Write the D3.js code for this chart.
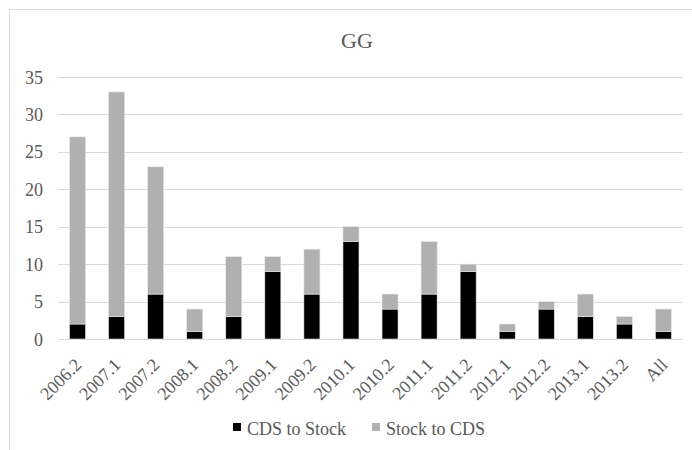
<!DOCTYPE html>
<html>
<head>
<meta charset="utf-8">
<script src="https://cdn.jsdelivr.net/npm/d3@7"></script>
<style>
  body { margin: 0; background: #fff; }
</style>
</head>
<body>
<svg id="chart" width="692" height="450"></svg>
<script>
// Periods on the x axis
const periods = ["2006.2","2007.1","2007.2","2008.1","2008.2","2009.1","2009.2","2010.1",
                 "2010.2","2011.1","2011.2","2012.1","2012.2","2013.1","2013.2","All"];
// Counts per direction
const cdsToStock = [2, 3, 6, 1, 3, 9, 6, 13, 4, 6, 9, 1, 4, 3, 2, 1];
const stockToCds = [25, 30, 17, 3, 8, 2, 6, 2, 2, 7, 1, 1, 1, 3, 1, 3];
const seriesNames = ["CDS to Stock", "Stock to CDS"];
const yTicks = [0, 5, 10, 15, 20, 25, 30, 35];

const svg = d3.select("#chart");
const W = 692, H = 450;
const m = { left: 58, right: 9, top: 77, bottom: 111 };
const textColor = "#595959";
const serif = '"Liberation Serif"';

// chart frame
svg.append("rect").attr("x", 9.5).attr("y", 9.5).attr("width", W + 20).attr("height", H + 20)
  .attr("fill", "#fff").attr("stroke", "#d9d9d9").attr("stroke-width", 1);

const rows = periods.map((p, i) => ({ period: p, "CDS to Stock": cdsToStock[i], "Stock to CDS": stockToCds[i] }));
const stacked = d3.stack().keys(seriesNames)(rows);

const x = d3.scaleBand().domain(periods).range([m.left, W - m.right]).paddingInner(0.59).paddingOuter(0.295);
const y = d3.scaleLinear().domain([0, 35]).range([H - m.bottom, m.top]);
const colors = { "CDS to Stock": "#000000", "Stock to CDS": "#b0b0b0" };

// gridlines
svg.append("g").selectAll("line").data(yTicks).join("line")
  .attr("x1", m.left).attr("x2", W - m.right)
  .attr("y1", d => Math.round(y(d)) + 0.5).attr("y2", d => Math.round(y(d)) + 0.5)
  .attr("stroke", "#d9d9d9").attr("stroke-width", 1);

// y axis labels
const yAxis = svg.append("g").attr("transform", `translate(${m.left},0)`)
  .call(d3.axisLeft(y).tickValues(yTicks).tickSize(0).tickPadding(15));
yAxis.select(".domain").remove();
yAxis.selectAll("text").style("font-family", serif).style("font-size", "18px")
  .attr("fill", textColor).attr("dy", "0.34em");

// stacked bars
svg.append("g").selectAll("g").data(stacked).join("g")
  .attr("fill", d => colors[d.key])
  .selectAll("rect").data(d => d).join("rect")
  .attr("x", d => x(d.data.period))
  .attr("width", x.bandwidth())
  .attr("y", d => y(d[1]))
  .attr("height", d => y(d[0]) - y(d[1]))
  .attr("stroke", "#e6e6e6").attr("stroke-width", 0.6);

// x axis labels, rotated
const xAxis = svg.append("g").attr("transform", `translate(0,${H - m.bottom})`)
  .call(d3.axisBottom(x).tickSize(0).tickPadding(0));
xAxis.select(".domain").remove();
xAxis.selectAll("text")
  .style("font-family", serif).style("font-size", "18px").attr("fill", textColor)
  .attr("text-anchor", "end")
  .attr("y", 0).attr("dy", "0")
  .attr("transform", "translate(5,27) rotate(-45)");

// title
svg.append("text").attr("x", 357).attr("y", 48).attr("text-anchor", "middle")
  .style("font-family", serif).style("font-size", "22px").attr("fill", textColor).text("GG");

// legend
const legend = svg.append("g");
const legendItems = [
  { name: seriesNames[0], x: 233 },
  { name: seriesNames[1], x: 372 }
];
legendItems.forEach(it => {
  legend.append("rect").attr("x", it.x).attr("y", 423).attr("width", 8).attr("height", 8)
    .attr("fill", colors[it.name]);
  legend.append("text").attr("x", it.x + 14).attr("y", 435)
    .style("font-family", serif).style("font-size", "18px")
    .attr("fill", textColor).text(it.name);
});
</script>
</body>
</html>
